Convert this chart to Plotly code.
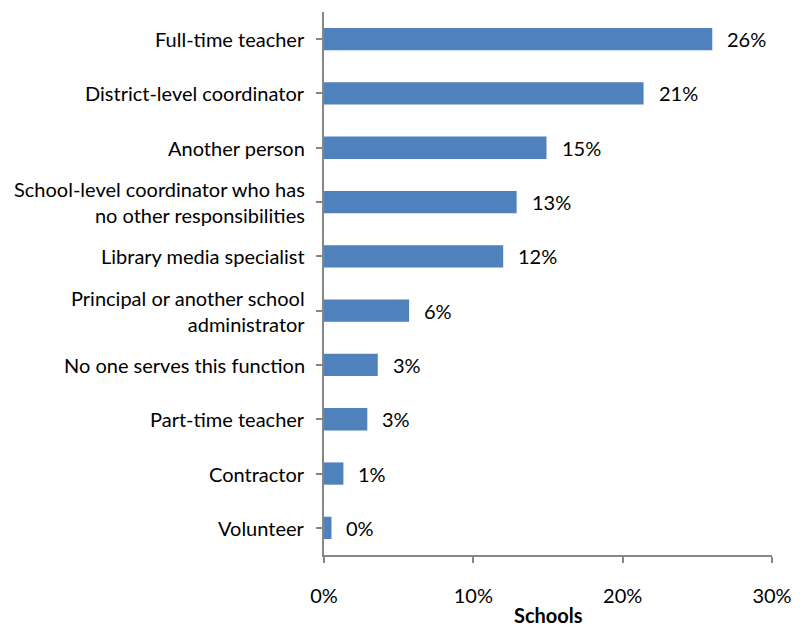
import plotly.graph_objects as go

categories = [
    "Full-time teacher",
    "District-level coordinator",
    "Another person",
    "School-level coordinator who has<br>no other responsibilities",
    "Library media specialist",
    "Principal or another school<br>administrator",
    "No one serves this function",
    "Part-time teacher",
    "Contractor",
    "Volunteer",
]
values = [26.0, 21.4, 14.9, 12.9, 12.0, 5.7, 3.6, 2.9, 1.3, 0.5]
value_labels = ["26%", "21%", "15%", "13%", "12%", "6%", "3%", "3%", "1%", "0%"]
x_ticks = [0, 10, 20, 30]
x_tick_labels = ["0%", "10%", "20%", "30%"]
x_title = "Schools"

FONT = "Lato, 'Open Sans', sans-serif"
FS = 20

fig = go.Figure(
    go.Bar(
        x=values,
        y=categories,
        orientation="h",
        marker=dict(color="#4F81BD", line=dict(width=0)),
        width=0.41,
        hoverinfo="skip",
    )
)

for v, c, t in zip(values, categories, value_labels):
    fig.add_annotation(
        x=v, y=c, text=t, showarrow=False, xanchor="left", yanchor="middle",
        xshift=13, font=dict(family=FONT, size=FS, color="#000000"),
    )

for c in categories:
    fig.add_annotation(
        x=0, y=c, xref="x", yref="y", text=c, showarrow=False,
        xanchor="right", yanchor="middle", xshift=-17, align="right",
        font=dict(family=FONT, size=FS, color="#000000"),
    )

fig.add_annotation(
    x=0.5, y=0, xref="paper", yref="paper", text="<b>" + x_title + "</b>",
    showarrow=False, xanchor="center", yanchor="bottom", yshift=-73,
    borderpad=0,
    font=dict(family=FONT, size=FS, color="#000000"),
)

fig.update_layout(
    width=796, height=621,
    margin=dict(l=316, r=32, t=4, b=74, autoexpand=False),
    paper_bgcolor="white", plot_bgcolor="white",
    showlegend=False,
    font=dict(family=FONT, size=FS, color="#000000"),
    xaxis=dict(
        range=[0, 30], tickvals=x_ticks, ticktext=x_tick_labels,
        showgrid=False, zeroline=False,
        showline=True, linecolor="#868686", linewidth=2,
        ticks="outside", ticklen=6, tickcolor="#868686", tickwidth=2,
        ticklabelstandoff=16,
        tickfont=dict(family=FONT, size=FS),
        automargin=False,
        fixedrange=True,
    ),
    yaxis=dict(
        range=[9.5, -0.5], autorange=False,
        showgrid=False, zeroline=False,
        showline=True, linecolor="#868686", linewidth=2,
        ticks="outside", ticklen=6, tickcolor="#868686", tickwidth=2,
        tickmode="linear", tick0=-0.5, dtick=1,
        showticklabels=False,
        automargin=False,
        fixedrange=True,
    ),
)

fig.write_html("out.html")
